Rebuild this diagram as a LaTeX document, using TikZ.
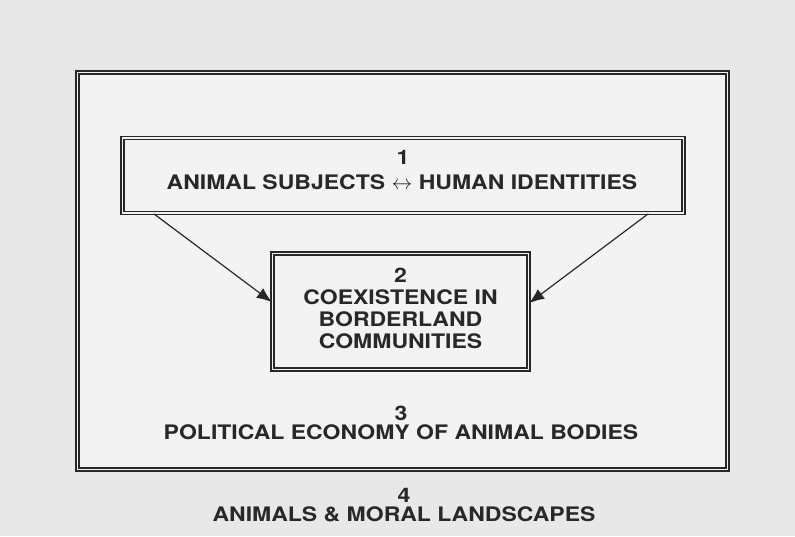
\documentclass[tikz,border=0pt]{standalone}
\usepackage{fontspec}
\setmainfont[FakeStretch=1.15]{TeX Gyre Heros}
\usetikzlibrary{arrows.meta}
\definecolor{ink}{RGB}{40,40,40}
\definecolor{paper}{RGB}{232,232,232}
\definecolor{inner}{RGB}{243,243,243}
\tikzset{
  dbox/.style={draw=ink, line width=1.5pt, double=inner, double distance=1.7pt, fill=inner, inner sep=0pt},
  lbl/.style={text=ink, font=\bfseries\fontsize{20}{22}\selectfont, align=center, inner sep=0pt},
  conn/.style={draw=ink, line width=1.2pt, -{Latex[length=15pt,width=12pt]}}
}
\begin{document}
\begin{tikzpicture}[x=1pt,y=-1pt]
\fill[paper] (0,0) rectangle (795,536);
\useasboundingbox (0,0) rectangle (795,536);
\node[dbox, minimum width=650pt, minimum height=397pt] (outer) at (402.5,271) {};
\node[dbox, minimum width=561pt, minimum height=75pt] (b1) at (403,175.5) {};
\node[dbox, minimum width=256pt, minimum height=116pt] (b2) at (400.5,311.5) {};
\node[lbl] (t1n) at (403,157.5) {1};
\node[lbl] (t1) at (402,182.5) {ANIMAL SUBJECTS $\leftrightarrow$ HUMAN IDENTITIES};
\node[lbl] (t2) at (400.5,308.5) {2\\COEXISTENCE IN\\BORDERLAND\\COMMUNITIES};
\node[lbl] (t3n) at (401,413) {3};
\node[lbl] (t3) at (401,432) {POLITICAL ECONOMY OF ANIMAL BODIES};
\node[lbl] (t4n) at (404,495) {4};
\node[lbl] (t4) at (404,514.5) {ANIMALS \& MORAL LANDSCAPES};
\draw[conn] ([xshift=32pt]b1.south west) -- ([yshift=9.5pt]b2.west);
\draw[conn] ([xshift=-36pt]b1.south east) -- ([yshift=8.5pt]b2.east);
\end{tikzpicture}
\end{document}
